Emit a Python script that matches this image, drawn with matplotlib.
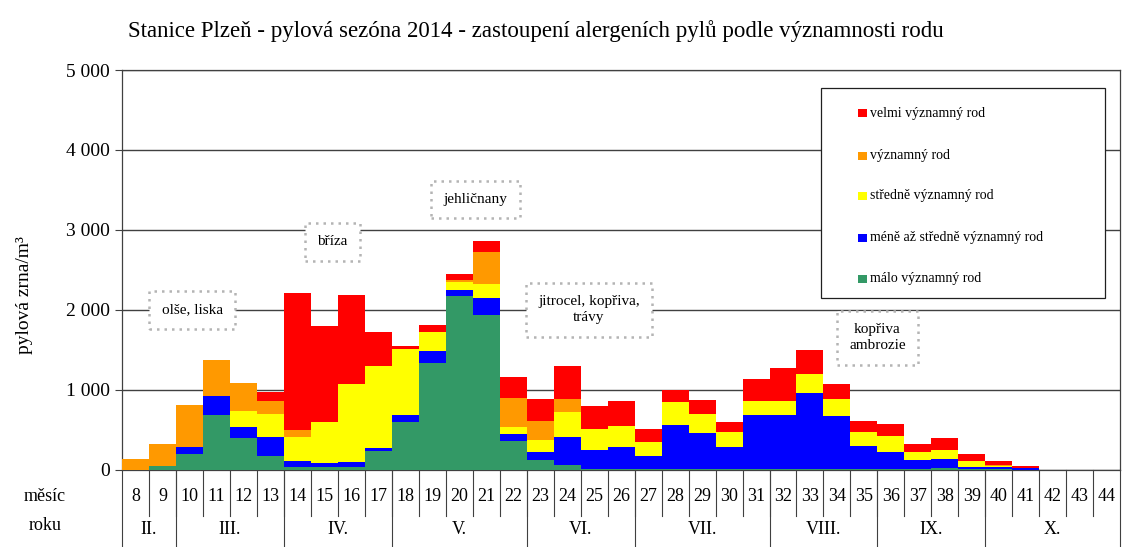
import matplotlib.pyplot as plt
import matplotlib.patches as mpatches
import numpy as np

# tydny 8..44, pylova zrna/m3 podle skupin vyznamnosti
weeks = list(range(8, 45))
malo = [0, 45, 200, 685, 400, 170, 40, 30, 35, 235, 600, 1335, 2170, 1935, 360, 120,
        60, 15, 10, 5, 10, 5, 5, 5, 5, 5, 5, 15, 5, 10, 25, 5, 5, 0, 0, 0, 0]
mene = [0, 0, 90, 240, 140, 245, 75, 55, 60, 40, 80, 155, 75, 210, 85, 100,
        350, 235, 280, 170, 545, 455, 275, 675, 675, 960, 665, 280, 215, 110, 105, 35, 25, 27, 0, 0, 0]
stredne = [0, 0, 0, 0, 195, 285, 300, 510, 975, 1020, 835, 230, 110, 185, 95, 150,
           310, 260, 260, 170, 290, 235, 190, 185, 185, 240, 210, 180, 205, 100, 120, 75, 20, 0, 0, 0, 0]
vyznamny = [130, 275, 520, 450, 355, 160, 85, 0, 0, 0, 0, 0, 25, 400, 360, 240,
            170, 0, 0, 0, 0, 0, 0, 0, 0, 0, 0, 0, 0, 0, 0, 0, 10, 0, 0, 0, 0]
velmi = [0, 0, 0, 0, 0, 115, 1715, 1210, 1120, 425, 40, 90, 75, 135, 260, 280,
         415, 290, 315, 165, 155, 175, 130, 275, 405, 290, 195, 140, 150, 100, 150, 80, 50, 20, 0, 0, 0]

labels = ['málo významný rod', 'méně až středně významný rod', 'středně významný rod',
          'významný rod', 'velmi významný rod']
colors = ['#339966', '#0000FF', '#FFFF00', '#FF9900', '#FF0000']

months = ['II.', 'III.', 'IV.', 'V.', 'VI.', 'VII.', 'VIII.', 'IX.', 'X.']
month_start = [8, 10, 14, 18, 23, 27, 32, 36, 40]

notes = ['olše, liska', 'bříza', 'jehličnany', 'jitrocel, kopřiva,\ntrávy', 'kopřiva\nambrozie']
note_x = [2.1, 7.3, 12.6, 16.8, 27.5]
note_y = [2000, 2850, 3380, 2000, 1650]

plt.rcParams['font.family'] = ['Liberation Serif', 'DejaVu Serif']

fig = plt.figure(figsize=(11.35, 5.47), dpi=100)
ax = fig.add_axes([0.1075, 0.141, 0.8795, 0.731])

x = np.arange(len(weeks))
bottom = np.zeros(len(weeks))
for vals, col, lab in zip([malo, mene, stredne, vyznamny, velmi], colors, labels):
    ax.bar(x, vals, width=1.0, bottom=bottom, color=col, linewidth=0, label=lab, zorder=3)
    bottom += np.array(vals)

ax.set_xlim(-0.5, len(weeks) - 0.5)
ax.set_ylim(0, 5000)
ax.set_yticks(range(0, 5001, 1000))
ax.set_yticklabels(['0', '1 000', '2 000', '3 000', '4 000', '5 000'], fontsize=14)
ax.tick_params(axis='y', length=5, color='#404040', pad=4)
ax.set_xticks([])
ax.yaxis.grid(True, color='#404040', lw=1)
ax.set_axisbelow(True)
for s in ['left', 'right', 'top', 'bottom']:
    ax.spines[s].set_color('#404040')
    ax.spines[s].set_linewidth(0.9)

# tabulka tydnu a mesicu pod grafem
trans = ax.get_xaxis_transform()
for i, w in enumerate(weeks):
    ax.text(i, -0.0675, str(w), ha='center', va='center', transform=trans, fontsize=13)
    if i > 0:
        ax.plot([i - 0.5, i - 0.5], [0, -0.115], transform=trans, color='#404040', lw=0.8, clip_on=False)
bounds = [weeks.index(m) - 0.5 for m in month_start] + [len(weeks) - 0.5]
for b in bounds:
    ax.plot([b, b], [0, -0.2], transform=trans, color='#404040', lw=0.8, clip_on=False)
for k, m in enumerate(months):
    ax.text((bounds[k] + bounds[k + 1]) / 2, -0.148, m, ha='center', va='center',
            transform=trans, fontsize=13)
ax.text(-0.077, -0.0675, 'měsíc', transform=ax.transAxes, ha='center', va='center', fontsize=13)
ax.text(-0.077, -0.138, 'roku', transform=ax.transAxes, ha='center', va='center', fontsize=13)

# popisky pylovych obdobi
for t, nx, ny in zip(notes, note_x, note_y):
    ax.text(nx, ny, t, ha='center', va='center', fontsize=11, zorder=4, linespacing=1.3,
            bbox=dict(boxstyle='square,pad=0.8', fc='white', ec='#b4b4b4', ls=(0, (1, 2)), lw=1.8))

# legenda
ax.add_patch(mpatches.Rectangle((0.70, 0.43), 0.285, 0.525, transform=ax.transAxes,
                                fc='white', ec='#202020', lw=0.9, zorder=5))
leg_y = [0.8925, 0.785, 0.685, 0.58, 0.4775]
for ly, col, lab in zip(leg_y, colors[::-1], labels[::-1]):
    ax.add_patch(mpatches.Rectangle((0.7375, ly - 0.011), 0.009, 0.022, transform=ax.transAxes,
                                    fc=col, ec='none', zorder=6))
    ax.text(0.749, ly, lab, transform=ax.transAxes, ha='left', va='center', fontsize=10, zorder=6)

fig.text(0.113, 0.943, 'Stanice Plzeň - pylová sezóna 2014 - zastoupení alergeních pylů podle významnosti rodu',
         ha='left', va='center', fontsize=16.5)
fig.text(0.022, 0.46, 'pylová zrna/m³', rotation=90, ha='center', va='center', fontsize=14)

fig.savefig('out.png', dpi=100)
